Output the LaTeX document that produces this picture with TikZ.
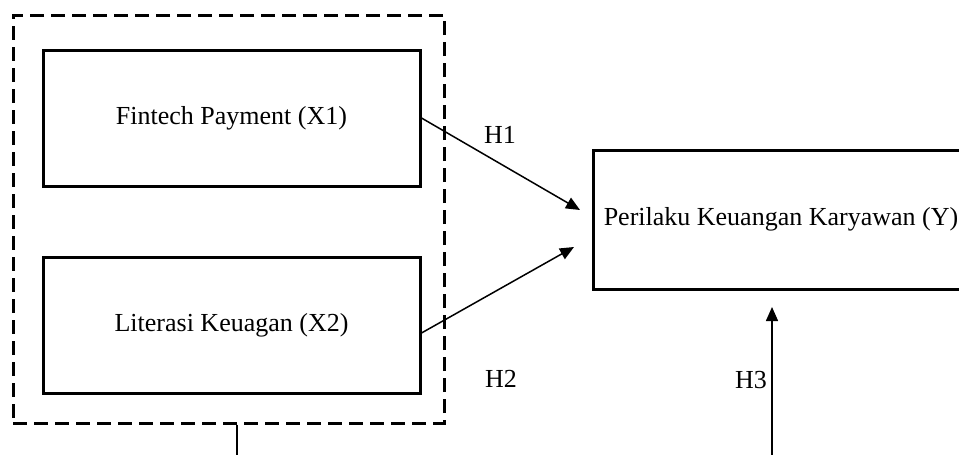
\documentclass[tikz,border=0pt]{standalone}
\usepackage{fontspec}
\setmainfont{Liberation Serif}
\usepackage{tikz}
\usetikzlibrary{positioning,arrows.meta}

\begin{document}
\begin{tikzpicture}[x=.5pt,y=-.5pt,
                      basenode/.style={inner sep=0pt,font={\fontsize{13}{15}\selectfont}},
                      varbox/.style={basenode,draw,line width=1.5pt,minimum width=188.5pt,minimum height=68pt},
                      grpbox/.style={draw,dash pattern=on 7pt off 3.5pt,line width=1.5pt,minimum width=215.5pt,minimum height=204pt},
                      link/.style={-{Triangle[length=7pt,width=6pt]},line width=.75pt},
                      hyp/.style={basenode}]
    \useasboundingbox (0,0) rectangle (959,455);
    \node[varbox] (x1) at (231.5,118) {Fintech Payment (X1)};
    \node[varbox] (x2) [below=34pt of x1] {Literasi Keuagan (X2)};
    \node[grpbox] (group) at (228.5,219) {};
    \node[varbox,minimum width=188pt,minimum height=69.5pt] (y) at (781,219.5) {Perilaku Keuangan Karyawan (Y)};
    \coordinate (h1end) at (580,210);
    \coordinate (h2end) at (574,247);
    \coordinate (h3start) at (772,460);
    \coordinate (h3end) at (772,307);
    \coordinate (gdown) at (237,460);
    \node[hyp] (h1) at (500,135) {H1};
    \node[hyp] (h2) at (501,379) {H2};
    \node[hyp] (h3) at (751,380) {H3};
    \draw[link] (x1.east) -- (h1end);
    \draw[link] ([yshift=-4pt]x2.east) -- (h2end);
    \draw[link] (h3start) -- (h3end);
    \draw[line width=.75pt] (gdown |- group.south) -- (gdown);
  \end{tikzpicture}
\end{document}
